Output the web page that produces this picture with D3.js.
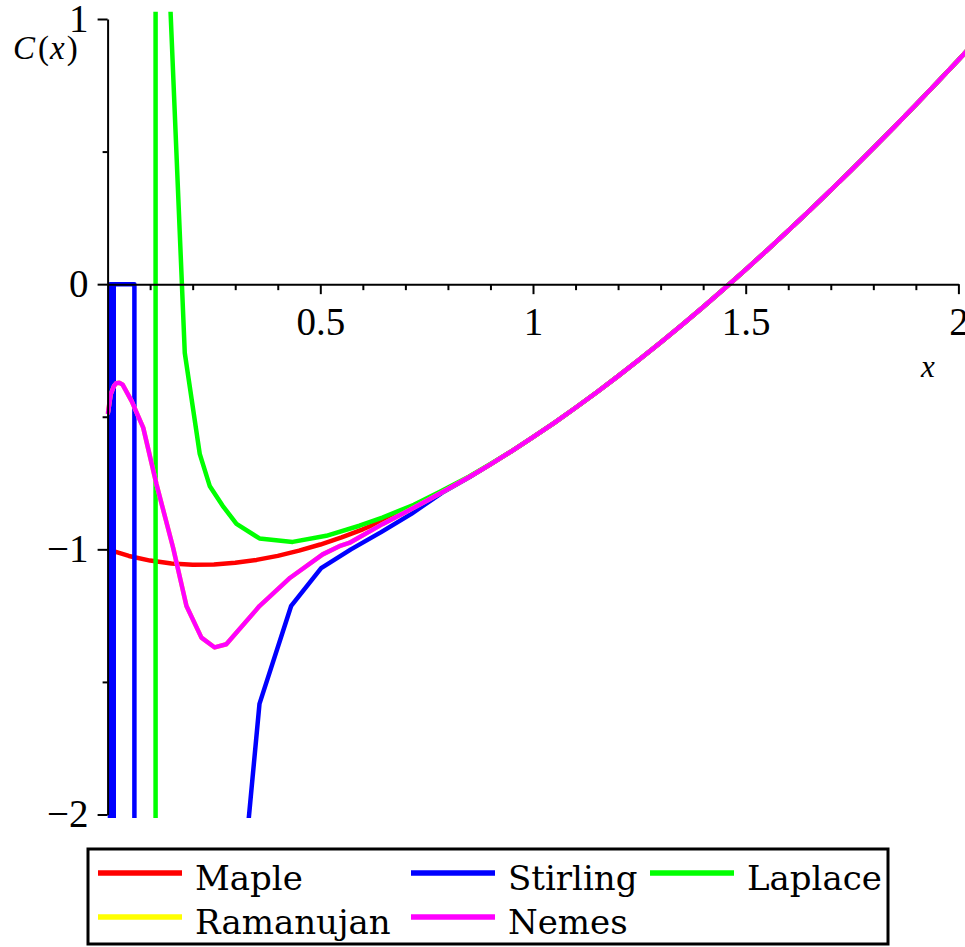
<!DOCTYPE html>
<html>
<head>
<meta charset="utf-8">
<script src="https://cdn.jsdelivr.net/npm/d3@7"></script>
<style>
  html, body { margin: 0; padding: 0; background: #fff; }
  svg { display: block; }
</style>
</head>
<body>
<script>
// C(x) for x in [0, 2]: exact (Maple) against four Gamma-function approximations.
// Each series is a list of [x, C(x)] samples; NaN starts a new piece of the polyline.

const maple = [
  [0, -1], [0.05, -1.0249], [0.1, -1.0424], [0.15, -1.0532], [0.2, -1.0578],
  [0.25, -1.0569], [0.3, -1.0508], [0.35, -1.0399], [0.4, -1.0246], [0.45, -1.005],
  [0.5, -0.9818], [0.55, -0.9547], [0.6, -0.9244], [0.65, -0.8907], [0.7, -0.854],
  [0.75, -0.8144], [0.8, -0.772], [0.85, -0.727], [0.9, -0.6794], [0.95, -0.6295],
  [1, -0.5772], [1.05, -0.5227], [1.1, -0.4661], [1.15, -0.4075], [1.2, -0.3469],
  [1.25, -0.2843], [1.3, -0.22], [1.35, -0.1538], [1.4, -0.0859], [1.45, -0.0162],
  [1.5, 0.0547], [1.55, 0.1276], [1.6, 0.2017], [1.65, 0.2774], [1.7, 0.3545],
  [1.75, 0.4331], [1.8, 0.513], [1.85, 0.5942], [1.9, 0.6767], [1.95, 0.7605],
  [2, 0.8456], [2.02, 0.88]
];

const stirling = [
  [0.0055, -2.5], [0.0055, 0], [0.063, 0], [0.063, -2.5], [NaN, NaN],
  [0.0145, -2.5], [0.0145, 0], [NaN, NaN],
  [0.321, -2.2], [0.357, -1.583], [0.4316, -1.213], [0.502, -1.071], [0.572, -1.0],
  [0.643, -0.935], [0.714, -0.866], [0.785, -0.788], [0.85, -0.728],
  [0.9, -0.6794], [0.95, -0.6295], [1, -0.5772], [1.05, -0.5227], [1.1, -0.4661],
  [1.15, -0.4075], [1.2, -0.3469], [1.25, -0.2843], [1.3, -0.22], [1.35, -0.1538],
  [1.4, -0.0859], [1.45, -0.0162], [1.5, 0.0547], [1.55, 0.1276], [1.6, 0.2017],
  [1.65, 0.2774], [1.7, 0.3545], [1.75, 0.4331], [1.8, 0.513], [1.85, 0.5942],
  [1.9, 0.6767], [1.95, 0.7605], [2, 0.8456], [2.02, 0.88]
];

const laplace = [
  [0.1128, -2.5], [0.1128, 2.5], [NaN, NaN],
  [0.1435, 1.2], [0.1814, -0.259], [0.2166, -0.64], [0.24, -0.761], [0.2705, -0.836],
  [0.303, -0.904], [0.357, -0.959], [0.435, -0.972], [0.514, -0.949], [0.592, -0.911],
  [0.646, -0.88], [0.72, -0.832], [0.78, -0.784], [0.85, -0.725], [0.9, -0.678],
  [0.95, -0.6295], [1, -0.5772], [1.05, -0.5227], [1.1, -0.4661], [1.15, -0.4075],
  [1.2, -0.3469], [1.25, -0.2843], [1.3, -0.22], [1.35, -0.1538], [1.4, -0.0859],
  [1.45, -0.0162], [1.5, 0.0547], [1.55, 0.1276], [1.6, 0.2017], [1.65, 0.2774],
  [1.7, 0.3545], [1.75, 0.4331], [1.8, 0.513], [1.85, 0.5942], [1.9, 0.6767],
  [1.95, 0.7605], [2, 0.8456], [2.02, 0.88]
];

const nemes = [
  [0, -0.49], [0.0016, -0.478], [0.0073, -0.415], [0.015, -0.384], [0.02, -0.374],
  [0.0274, -0.372], [0.035, -0.378], [0.0565, -0.441], [0.0837, -0.541], [0.115, -0.755],
  [0.154, -0.994], [0.1854, -1.214], [0.2206, -1.333], [0.2518, -1.37], [0.279, -1.358],
  [0.357, -1.214], [0.4293, -1.107], [0.5056, -1.019], [0.5448, -0.988], [0.568, -0.976],
  [0.646, -0.905], [0.7, -0.86], [0.75, -0.8165], [0.8, -0.7725], [0.85, -0.727],
  [0.9, -0.6794], [0.95, -0.6295], [1, -0.5772], [1.05, -0.5227], [1.1, -0.4661],
  [1.15, -0.4075], [1.2, -0.3469], [1.25, -0.2843], [1.3, -0.22], [1.35, -0.1538],
  [1.4, -0.0859], [1.45, -0.0162], [1.5, 0.0547], [1.55, 0.1276], [1.6, 0.2017],
  [1.65, 0.2774], [1.7, 0.3545], [1.75, 0.4331], [1.8, 0.513], [1.85, 0.5942],
  [1.9, 0.6767], [1.95, 0.7605], [2, 0.8456], [2.02, 0.88]
];

// Ramanujan's approximation lies under the Nemes curve across the whole view.
const ramanujan = nemes.map(d => d.slice());

const seriesNames = ["Maple", "Stirling", "Laplace", "Ramanujan", "Nemes"];
const seriesColors = ["#ff0000", "#0000ff", "#00ff00", "#ffff00", "#ff00ff"];
const seriesData = [maple, stirling, laplace, ramanujan, nemes];

const xMajorTicks = [0.5, 1, 1.5, 2];
const xMajorLabels = ["0.5", "1", "1.5", "2"];
const xMinorTicks = [0.1, 0.2, 0.3, 0.4, 0.6, 0.7, 0.8, 0.9, 1.1, 1.2, 1.3, 1.4, 1.6, 1.7, 1.8, 1.9];
const yMajorTicks = [1, 0, -1, -2];
const yMajorLabels = ["1", "0", "\u22121", "\u22122"];
const yMinorTicks = [0.5, -0.5, -1.5];

const W = 965, H = 947;
const svg = d3.select("body").append("svg").attr("width", W).attr("height", H);

const x = d3.scaleLinear().domain([0, 2]).range([107.6, 958.4]);
const y = d3.scaleLinear().domain([-2, 1]).range([814.5, 19]);

const tickFont = "'Liberation Serif', 'DejaVu Serif', serif";

// clip region of the plot view
svg.append("defs").append("clipPath").attr("id", "view")
  .append("rect")
  .attr("x", x(0) - 2).attr("y", y(1.027))
  .attr("width", W - x(0) + 2).attr("height", y(-2.013) - y(1.027));

const line = d3.line()
  .defined(d => !isNaN(d[0]) && !isNaN(d[1]))
  .x(d => x(d[0])).y(d => y(d[1]));

const curves = svg.append("g").attr("clip-path", "url(#view)");
seriesData.forEach((data, i) => {
  curves.append("path")
    .datum(data)
    .attr("d", line)
    .attr("fill", "none")
    .attr("stroke", seriesColors[i])
    .attr("stroke-width", 4.5)
    .attr("stroke-linejoin", "round");
});

// x axis
const gx = svg.append("g").attr("transform", `translate(0,${y(0)})`);
gx.call(d3.axisBottom(x).tickValues(xMajorTicks).tickFormat((d, i) => xMajorLabels[i])
  .tickSize(10).tickSizeOuter(0).tickPadding(13));
const gxMinor = svg.append("g").attr("transform", `translate(0,${y(0)})`);
gxMinor.call(d3.axisBottom(x).tickValues(xMinorTicks).tickFormat("").tickSize(6).tickSizeOuter(0));
gxMinor.select(".domain").remove();

// y axis
const gy = svg.append("g").attr("transform", `translate(${x(0)},0)`);
gy.call(d3.axisLeft(y).tickValues(yMajorTicks).tickFormat((d, i) => yMajorLabels[i])
  .tickSize(10).tickSizeOuter(0).tickPadding(9));
const gyMinor = svg.append("g").attr("transform", `translate(${x(0)},0)`);
gyMinor.call(d3.axisLeft(y).tickValues(yMinorTicks).tickFormat("").tickSize(5).tickSizeOuter(0));
gyMinor.select(".domain").remove();

svg.selectAll(".domain, .tick line")
  .attr("stroke", "#000").attr("stroke-width", 2);
svg.selectAll(".tick text")
  .attr("font-family", tickFont).attr("font-size", 39).attr("fill", "#000");

// axis titles
const title = svg.append("text")
  .attr("x", 13).attr("y", 59)
  .attr("font-family", tickFont).attr("font-size", 33);
title.append("tspan").attr("font-style", "italic").text("C");
title.append("tspan").attr("dx", 3).text("(");
title.append("tspan").attr("dx", 1).attr("font-style", "italic").text("x");
title.append("tspan").attr("dx", 2).text(")");

svg.append("text")
  .attr("x", 921).attr("y", 377)
  .attr("font-family", tickFont).attr("font-size", 31).attr("font-style", "italic")
  .text("x");

// legend
const legend = svg.append("g");
legend.append("rect")
  .attr("x", 88).attr("y", 849).attr("width", 800).attr("height", 95)
  .attr("fill", "#fff").attr("stroke", "#000").attr("stroke-width", 3);

const legendCols = [98, 411, 650];
const legendRows = [873, 917];
seriesNames.forEach((name, i) => {
  const cx = legendCols[i % 3], cy = legendRows[Math.floor(i / 3)];
  legend.append("line")
    .attr("x1", cx).attr("x2", cx + 84).attr("y1", cy).attr("y2", cy)
    .attr("stroke", seriesColors[i]).attr("stroke-width", 5.5);
  legend.append("text")
    .attr("x", cx + 97).attr("y", cy + 17)
    .attr("font-family", "'DejaVu Serif', serif").attr("font-size", 34)
    .attr("fill", "#000")
    .text(name);
});
</script>
</body>
</html>
